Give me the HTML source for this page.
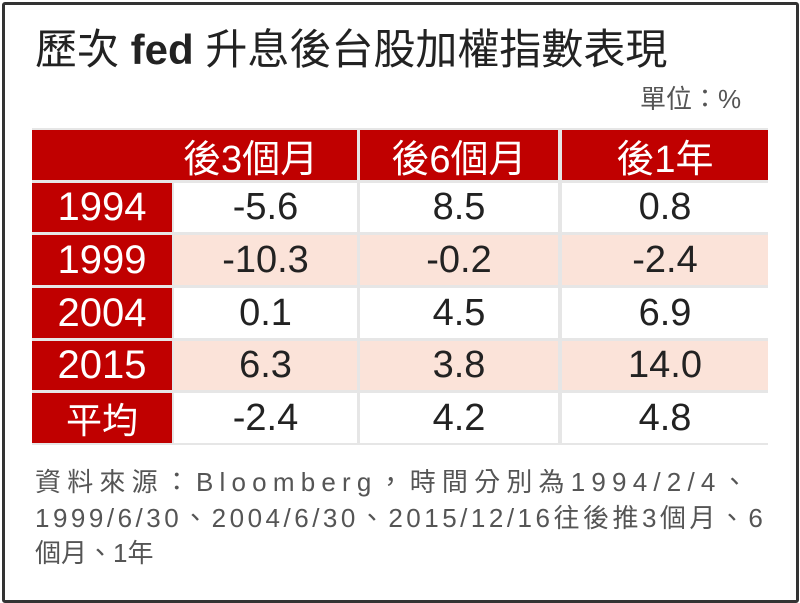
<!DOCTYPE html>
<html><head><meta charset="utf-8"><style>
body{margin:0;width:800px;height:603px;background:#fff;position:relative;overflow:hidden;font-family:"Liberation Sans","Noto Sans CJK TC",sans-serif}
.frame{position:absolute;left:2px;top:2px;width:791px;height:595px;border:3px solid #333;border-radius:3px;background:#fff}
.a{position:absolute;line-height:1;white-space:nowrap}
.c{position:absolute;display:flex;align-items:center;justify-content:center;font-size:38px;color:#222}
.r{background:#c00000;color:#fff}
.p{background:#fbe3d9}
.w{background:#fff}
.g{position:absolute;background:#e6e6e6}
.ft{position:absolute;left:35px;font-size:26px;color:#555;line-height:1;white-space:nowrap}
</style></head><body>
<div class="frame"></div>
<div class="a" style="left:35px;top:29px;font-size:42px;color:#222">歷次 <b>fed</b> 升息後台股加權指數表現</div>
<div class="a" style="left:640px;top:86px;font-size:26px;color:#555">單位：%</div>

<div class="g" style="left:32px;top:128px;width:736px;height:317px"></div>
<div class="c r" style="left:32px;top:130px;width:325px;height:50px;justify-content:flex-start;padding-left:151px;box-sizing:border-box;">後3個月</div>
<div class="c r" style="left:360px;top:130px;width:198px;height:50px">後6個月</div>
<div class="c r" style="left:562px;top:130px;width:206px;height:50px">後1年</div>

<div class="c r" style="left:32px;top:183px;width:140px;height:49px;font-size:40px">1994</div>
<div class="c w" style="left:174px;top:183px;width:183px;height:49px">-5.6</div>
<div class="c w" style="left:360px;top:183px;width:198px;height:49px">8.5</div>
<div class="c w" style="left:562px;top:183px;width:206px;height:49px">0.8</div>

<div class="c r" style="left:32px;top:235px;width:140px;height:50px;font-size:40px">1999</div>
<div class="c p" style="left:174px;top:235px;width:183px;height:50px">-10.3</div>
<div class="c p" style="left:360px;top:235px;width:198px;height:50px">-0.2</div>
<div class="c p" style="left:562px;top:235px;width:206px;height:50px">-2.4</div>

<div class="c r" style="left:32px;top:288px;width:140px;height:50px;font-size:40px">2004</div>
<div class="c w" style="left:174px;top:288px;width:183px;height:50px">0.1</div>
<div class="c w" style="left:360px;top:288px;width:198px;height:50px">4.5</div>
<div class="c w" style="left:562px;top:288px;width:206px;height:50px">6.9</div>

<div class="c r" style="left:32px;top:341px;width:140px;height:49px;font-size:40px">2015</div>
<div class="c p" style="left:174px;top:341px;width:183px;height:49px">6.3</div>
<div class="c p" style="left:360px;top:341px;width:198px;height:49px">3.8</div>
<div class="c p" style="left:562px;top:341px;width:206px;height:49px">14.0</div>

<div class="c r" style="left:32px;top:393px;width:140px;height:50px;font-size:36px">平均</div>
<div class="c w" style="left:174px;top:393px;width:183px;height:50px">-2.4</div>
<div class="c w" style="left:360px;top:393px;width:198px;height:50px">4.2</div>
<div class="c w" style="left:562px;top:393px;width:206px;height:50px">4.8</div>

<div class="ft" style="top:469px;letter-spacing:6.2px">資料來源：Bloomberg，時間分別為1994/2/4、</div>
<div class="ft" style="top:505px;letter-spacing:3.5px">1999/6/30、2004/6/30、2015/12/16往後推3個月、6</div>
<div class="ft" style="top:540px">個月、1年</div>
</body></html>
